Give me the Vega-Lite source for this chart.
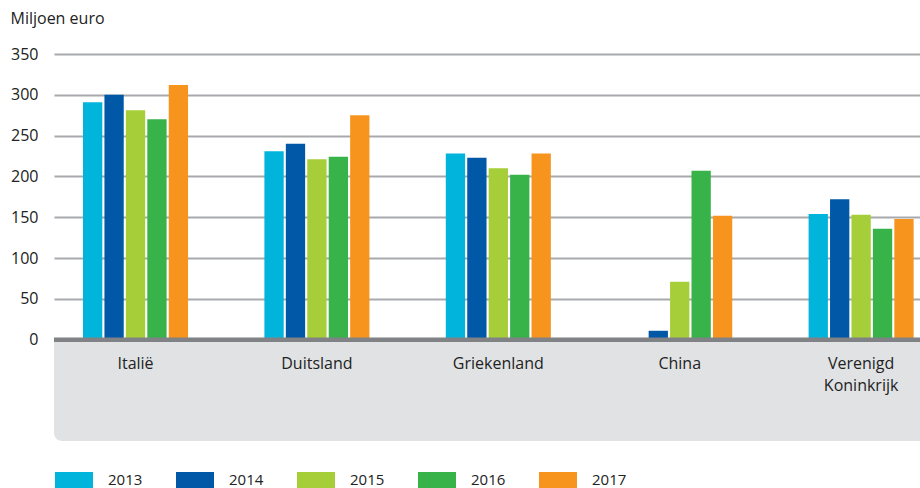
{
  "$schema": "https://vega.github.io/schema/vega-lite/v6.json",
  "width": 866,
  "height": 387,
  "autosize": {"type": "none"},
  "padding": {"left": 54, "top": 54, "right": 0, "bottom": 47},
  "background": "white",
  "config": {
    "font": "Open Sans",
    "view": {"stroke": null}
  },
  "datasets": {
    "export": [
      {"land": "Italië", "jaar": "2013", "waarde": 291},
      {"land": "Italië", "jaar": "2014", "waarde": 300},
      {"land": "Italië", "jaar": "2015", "waarde": 281},
      {"land": "Italië", "jaar": "2016", "waarde": 270},
      {"land": "Italië", "jaar": "2017", "waarde": 312},
      {"land": "Duitsland", "jaar": "2013", "waarde": 231},
      {"land": "Duitsland", "jaar": "2014", "waarde": 240},
      {"land": "Duitsland", "jaar": "2015", "waarde": 221},
      {"land": "Duitsland", "jaar": "2016", "waarde": 224},
      {"land": "Duitsland", "jaar": "2017", "waarde": 275},
      {"land": "Griekenland", "jaar": "2013", "waarde": 228},
      {"land": "Griekenland", "jaar": "2014", "waarde": 223},
      {"land": "Griekenland", "jaar": "2015", "waarde": 210},
      {"land": "Griekenland", "jaar": "2016", "waarde": 202},
      {"land": "Griekenland", "jaar": "2017", "waarde": 228},
      {"land": "China", "jaar": "2013", "waarde": 1},
      {"land": "China", "jaar": "2014", "waarde": 11},
      {"land": "China", "jaar": "2015", "waarde": 71},
      {"land": "China", "jaar": "2016", "waarde": 207},
      {"land": "China", "jaar": "2017", "waarde": 152},
      {"land": "Verenigd Koninkrijk", "jaar": "2013", "waarde": 154},
      {"land": "Verenigd Koninkrijk", "jaar": "2014", "waarde": 172},
      {"land": "Verenigd Koninkrijk", "jaar": "2015", "waarde": 153},
      {"land": "Verenigd Koninkrijk", "jaar": "2016", "waarde": 136},
      {"land": "Verenigd Koninkrijk", "jaar": "2017", "waarde": 148}
    ]
  },
  "layer": [
    {
      "data": {"values": [{}]},
      "mark": {"type": "rect", "color": "#e1e2e4", "cornerRadiusBottomLeft": 8},
      "encoding": {
        "y": {"datum": -124, "type": "quantitative"},
        "y2": {"datum": 0}
      }
    },
    {
      "data": {"name": "export"},
      "mark": {"type": "bar"},
      "encoding": {
        "x": {
          "field": "land",
          "type": "nominal",
          "sort": ["Italië", "Duitsland", "Griekenland", "China", "Verenigd Koninkrijk"],
          "scale": {"paddingInner": 0.421, "paddingOuter": 0.0975, "align": 0.82},
          "axis": {
            "title": null,
            "labelAngle": 0,
            "ticks": false,
            "domain": false,
            "offset": -99,
            "zindex": 2,
            "labelPadding": 13,
            "labelFontSize": 16,
            "labelColor": "#222222",
            "labelLineHeight": 22,
            "labelExpr": "datum.label == 'Verenigd Koninkrijk' ? ['Verenigd', 'Koninkrijk'] : datum.label"
          }
        },
        "xOffset": {
          "field": "jaar",
          "type": "nominal",
          "scale": {"paddingInner": 0.1, "paddingOuter": 0}
        },
        "y": {
          "field": "waarde",
          "type": "quantitative",
          "scale": {"domain": [-124, 350], "nice": false, "zero": false},
          "axis": {
            "values": [0, 50, 100, 150, 200, 250, 300, 350],
            "grid": true,
            "gridColor": "#a7a9ac",
            "gridWidth": 2,
            "ticks": false,
            "domain": false,
            "labelPadding": 16,
            "labelFontSize": 16,
            "labelColor": "#222222",
            "title": "Miljoen euro",
            "titleAngle": 0,
            "titleAlign": "left",
            "titleBaseline": "middle",
            "titleX": -44,
            "titleY": -36,
            "titleFontSize": 16,
            "titleFontWeight": "normal",
            "titleColor": "#222222"
          }
        },
        "color": {
          "field": "jaar",
          "type": "nominal",
          "scale": {
            "domain": ["2013", "2014", "2015", "2016", "2017"],
            "range": ["#00b4dc", "#0058a7", "#a6ce39", "#37b34a", "#f7941d"]
          },
          "legend": {
            "orient": "none",
            "legendX": 1,
            "legendY": 407,
            "direction": "horizontal",
            "title": null,
            "symbolType": "M-1,-0.42H1V0.42H-1Z",
            "symbolSize": 1444,
            "symbolStrokeWidth": 0,
            "labelFontSize": 15,
            "labelColor": "#222222",
            "labelOffset": 15,
            "columnPadding": 33
          }
        }
      }
    },
    {
      "data": {"values": [{}]},
      "mark": {"type": "rule", "color": "#808285", "strokeWidth": 4.5},
      "encoding": {
        "y": {"datum": 0, "type": "quantitative"}
      }
    }
  ]
}
